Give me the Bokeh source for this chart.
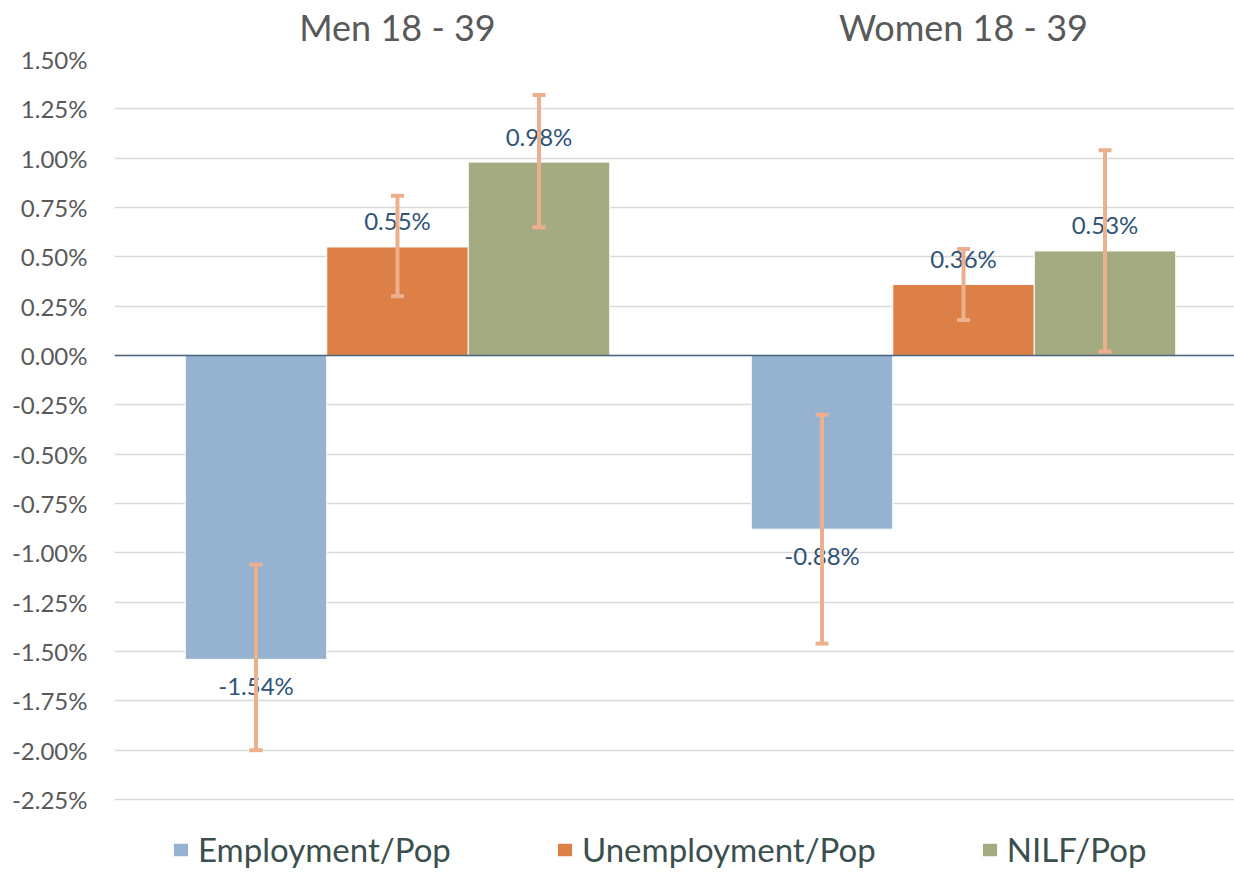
from bokeh.plotting import figure
from bokeh.models import (ColumnDataSource, Range1d, FixedTicker, LinearAxis,
                          PrintfTickFormatter, Whisker, TeeHead, Span, Legend, LegendItem)
from bokeh.core.properties import value
from bokeh.embed import file_html
from bokeh.resources import INLINE

# ---- data (percent) ----
groups = ["Men 18 - 39", "Women 18 - 39"]
series = ["Employment/Pop", "Unemployment/Pop", "NILF/Pop"]
employment = [-1.54, -0.88]
unemployment = [0.55, 0.36]
nilf = [0.98, 0.53]
employment_lo = [-2.00, -1.46]
employment_hi = [-1.06, -0.30]
unemployment_lo = [0.30, 0.18]
unemployment_hi = [0.81, 0.54]
nilf_lo = [0.65, 0.02]
nilf_hi = [1.32, 1.04]
y_ticks = [1.50, 1.25, 1.00, 0.75, 0.50, 0.25, 0.00, -0.25, -0.50, -0.75,
           -1.00, -1.25, -1.50, -1.75, -2.00, -2.25]

values = [employment, unemployment, nilf]
lows = [employment_lo, unemployment_lo, nilf_lo]
highs = [employment_hi, unemployment_hi, nilf_hi]
colors = ["#95B3D0", "#DD8047", "#A5AB81"]
offsets = [-0.25, 0.0, 0.25]
FONT = "Lato"

# layout: frame spans x 114..1234 px, y 59..887 px (tick area 59..799)
W, H = 1234, 887
LEFT, TOP = 114, 59
px_per_cat = 566.0
px_per_pct = (799 - TOP) / (max(y_ticks) - min(y_ticks))
x_end = (W - LEFT) / px_per_cat
y_start = max(y_ticks) - (H - TOP) / px_per_pct

p = figure(width=W, height=H, output_backend="svg", toolbar_location=None,
           x_range=Range1d(0, x_end), y_range=Range1d(y_start, max(y_ticks)),
           x_axis_location=None, min_border_left=LEFT, min_border_top=TOP,
           min_border_bottom=0, min_border_right=0)
p.outline_line_color = None
p.background_fill_color = "white"
p.border_fill_color = "white"
p.xgrid.grid_line_color = None
p.ygrid.grid_line_color = "#D9D9D9"
p.ygrid.grid_line_width = 1.5

yax = p.yaxis[0]
yax.ticker = FixedTicker(ticks=y_ticks)
yax.formatter = PrintfTickFormatter(format="%.2f%%")
yax.axis_line_color = None
yax.major_tick_line_color = None
yax.major_tick_out = 0
yax.minor_tick_line_color = None
yax.minor_tick_out = 0
yax.major_label_standoff = 27
yax.major_label_text_font = FONT
yax.major_label_text_font_size = "24px"
yax.major_label_text_color = "#595959"

top = LinearAxis(ticker=FixedTicker(ticks=[i + 0.5 for i in range(len(groups))]),
                 major_label_overrides={i + 0.5: g for i, g in enumerate(groups)})
top.axis_line_color = None
top.major_tick_line_color = None
top.major_tick_out = 0
top.minor_tick_line_color = None
top.minor_tick_out = 0
top.major_label_standoff = 11
top.major_label_text_font = FONT
top.major_label_text_font_size = "36px"
top.major_label_text_color = "#595959"
p.add_layout(top, "above")

renderers = []
for name, vals, lo, hi, col, off in zip(series, values, lows, highs, colors, offsets):
    xs = [i + 0.5 + off for i in range(len(groups))]
    src = ColumnDataSource(dict(
        x=xs, top=vals, lo=lo, hi=hi,
        label=[f"{v:.2f}%" for v in vals],
        yoff=[-26 if v >= 0 else 26 for v in vals]))
    r = p.vbar(x="x", top="top", bottom=0, width=0.25, source=src,
               fill_color=col, line_color="white", line_width=1)
    renderers.append(r)
    p.text(x="x", y="top", text="label", y_offset="yoff", source=src,
           text_align="center", text_baseline="alphabetic",
           text_font=value(FONT), text_font_size="24px", text_color="#2F5478")
    w = Whisker(source=src, base="x", lower="lo", upper="hi", level="overlay",
                line_color="#EDB08E", line_width=4,
                lower_head=TeeHead(size=13, line_width=4, line_color="#EDB08E"),
                upper_head=TeeHead(size=13, line_width=4, line_color="#EDB08E"))
    p.add_layout(w)

p.add_layout(Span(location=0, dimension="width", line_color="#4A6683", line_width=1.5))

legend = Legend(items=[LegendItem(label=s, renderers=[r]) for s, r in zip(series, renderers)],
                orientation="horizontal", location=(57, 18),
                padding=0, margin=0, spacing=104, label_standoff=8,
                glyph_width=19, glyph_height=17,
                label_text_font=FONT, label_text_font_size="33px",
                label_text_color="#3B4F4F",
                border_line_color=None, background_fill_alpha=0)
p.add_layout(legend)

open("out.html", "w").write(file_html(p, INLINE))
